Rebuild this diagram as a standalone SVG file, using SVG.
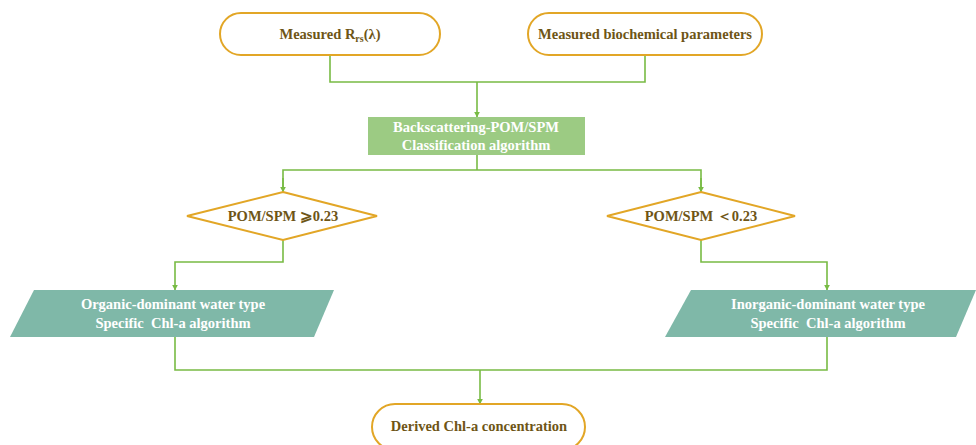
<svg xmlns="http://www.w3.org/2000/svg" width="976" height="445" viewBox="0 0 976 445">
<style>
.term{fill:#ffffff;stroke:#e2a626;stroke-width:2}
.dia{fill:#ffffff;stroke:#e2a626;stroke-width:2}
.t{font-family:"Liberation Serif","Times New Roman",serif;font-weight:bold;font-size:14.5px;text-anchor:middle;white-space:pre}
.dk{fill:#6e5516}
.wh{fill:#ffffff}
.c{fill:none;stroke:#78bb44;stroke-width:1.6}
</style>
<defs>
<marker id="ah" viewBox="0 0 10 10" refX="9" refY="5" markerWidth="6" markerHeight="6" markerUnits="userSpaceOnUse" orient="auto">
<path d="M0,0 L10,5 L0,10 z" fill="#78bb44"/>
</marker>
</defs>
<rect width="976" height="445" fill="#ffffff"/>
<g id="connectors">
<path class="c" d="M330,55 V82 H645 V55"/>
<path class="c" d="M477,82 V117" marker-end="url(#ah)"/>
<path class="c" d="M477,155 V170"/>
<path class="c" d="M283,191 V170 H701 V191" />
<path class="c" d="M283,178 V192" marker-end="url(#ah)"/>
<path class="c" d="M701,178 V192" marker-end="url(#ah)"/>
<path class="c" d="M283,240 V262 H175 V290" marker-end="url(#ah)"/>
<path class="c" d="M701,240 V262 H827 V290" marker-end="url(#ah)"/>
<path class="c" d="M175,337 V370 H827 V337"/>
<path class="c" d="M480,370 V404" marker-end="url(#ah)"/>
</g>
<g id="n1">
<rect class="term" x="220" y="13" width="220" height="42" rx="21"/>
<text class="t dk" x="330" y="39">Measured R<tspan font-size="10" dy="3">rs</tspan><tspan dy="-3">(λ)</tspan></text>
</g>
<g id="n2">
<rect class="term" x="528" y="13" width="234" height="42" rx="21"/>
<text class="t dk" x="645" y="39">Measured biochemical parameters</text>
</g>
<g id="n3">
<rect x="368" y="117" width="217" height="38" fill="#9ccb83"/>
<text class="t wh" x="476" y="132">Backscattering-POM/SPM</text>
<text class="t wh" x="476" y="150">Classification algorithm</text>
</g>
<g id="n4">
<polygon class="dia" points="283,192 377,216 283,240 187,216"/>
<text class="t dk" x="283" y="221">POM/SPM ⩾0.23</text>
</g>
<g id="n5">
<polygon class="dia" points="701,192 795,216 701,240 607,216"/>
<text class="t dk" x="701" y="221">POM/SPM ＜0.23</text>
</g>
<g id="n6">
<polygon points="34,290 334,290 314,337 10,337" fill="#7fb8a8"/>
<text class="t wh" x="173" y="309">Organic-dominant water type</text>
<text class="t wh" x="173" y="328">Specific  Chl-a algorithm</text>
</g>
<g id="n7">
<polygon points="691,290 976,290 956,337 665,337" fill="#7fb8a8"/>
<text class="t wh" x="828" y="309">Inorganic-dominant water type</text>
<text class="t wh" x="828" y="328">Specific  Chl-a algorithm</text>
</g>
<g id="n8">
<rect class="term" x="372" y="404" width="213" height="46" rx="23"/>
<text class="t dk" x="479" y="431">Derived Chl-a concentration</text>
</g>
</svg>
